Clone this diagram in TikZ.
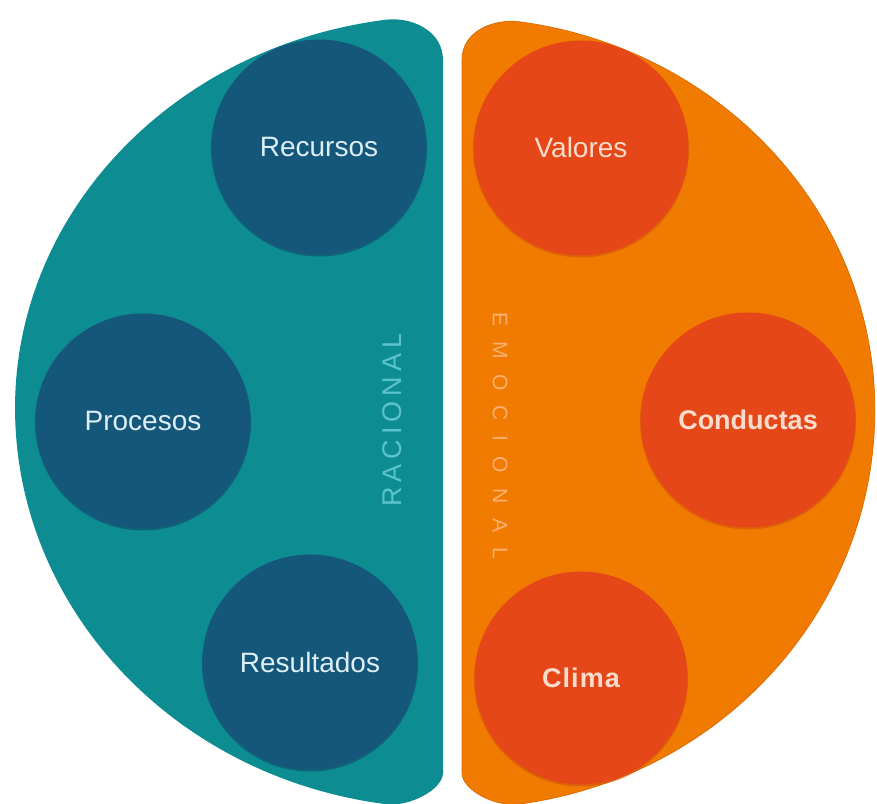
\documentclass[tikz,border=0pt]{standalone}
\usepackage{fontspec}
\setmainfont{Liberation Sans}
\definecolor{tealA}{RGB}{13,140,146}
\definecolor{navyA}{RGB}{21,86,123}
\definecolor{navyS}{RGB}{16,72,104}
\definecolor{orangeA}{RGB}{241,122,0}
\definecolor{orangeE}{RGB}{222,108,0}
\definecolor{redA}{RGB}{229,71,24}
\definecolor{redS}{RGB}{210,84,12}
\definecolor{txtblue}{RGB}{222,238,245}
\definecolor{txtpeach}{RGB}{250,220,205}
\definecolor{racol}{RGB}{92,194,204}
\definecolor{emcol}{RGB}{250,176,110}
\tikzset{
  bubble/.style={circle, inner sep=0pt, minimum size=215pt, font=\fontsize{28}{30}\selectfont},
  bluebubble/.style={bubble, fill=navyA, text=txtblue},
  redbubble/.style={bubble, fill=redA, text=txtpeach},
  bshadow/.style={circle, inner sep=0pt, minimum size=216pt, opacity=0.6},
  sidelabel/.style={inner sep=0pt}
}
\begin{document}
\begin{tikzpicture}[x=1pt,y=1pt]
\useasboundingbox (0,0) rectangle (877,803);
\fill[white] (0,0) rectangle (877,803);
% teal half
\fill[tealA] (443,743) .. controls (443,772) and (412,786.6) .. (385.2,783.2)
  arc[start angle=98,end angle=180,x radius=430pt,y radius=392pt]
  arc[start angle=180,end angle=262,x radius=430pt,y radius=400pt]
  .. controls (410,-4.4) and (443,14) .. (443,30) -- cycle;
% orange half
\filldraw[fill=orangeA, draw=orangeE, line width=0.8pt] (462,743) .. controls (462,772) and (494,784.6) .. (520,781.1)
  arc[start angle=81.9,end angle=0,x radius=413pt,y radius=392pt]
  arc[start angle=0,end angle=-81.9,x radius=413pt,y radius=398pt]
  .. controls (494,-4.5) and (462,14) .. (462,30) -- cycle;
% shadows
\node[bshadow, fill=navyS] (recS) at (319,654.5) {};
\node[bshadow, fill=navyS] (proS) at (143,380.5) {};
\node[bshadow, fill=navyS] (resS) at (310,139.5) {};
\node[bshadow, fill=redS] (valS) at (581,653.5) {};
\node[bshadow, fill=redS] (conS) at (748,381.5) {};
\node[bshadow, fill=redS, minimum size=214pt] (cliS) at (581,123.5) {};
% circles
\node[bluebubble] (rec) at (319,656) {Recursos};
\node[bluebubble] (pro) at (143,382) {Procesos};
\node[bluebubble] (res) at (310,141) {Resultados};
\node[redbubble] (val) at (581,655) {Valores};
\node[redbubble, font=\fontsize{27}{30}\selectfont\bfseries] (con) at (748,383) {Conductas};
\node[redbubble, minimum size=213pt, font=\fontsize{27}{30}\selectfont\bfseries] (cli) at (581,125) {C\kern1pt l\kern1pt i\kern1pt m\kern1pt a};
% vertical labels
\node[sidelabel, rotate=90, text=racol, font=\fontsize{27}{30}\selectfont] (rac) at (392,383)
  {R\kern5pt A\kern5pt C\kern5pt I\kern5pt O\kern5pt N\kern5pt A\kern5pt L};
\node[sidelabel, rotate=-90, text=emcol, font=\fontsize{21}{24}\selectfont] (emo) at (500,367)
  {E\kern15pt M\kern15pt O\kern15pt C\kern15pt I\kern15pt O\kern15pt N\kern15pt A\kern15pt L};
\end{tikzpicture}
\end{document}
